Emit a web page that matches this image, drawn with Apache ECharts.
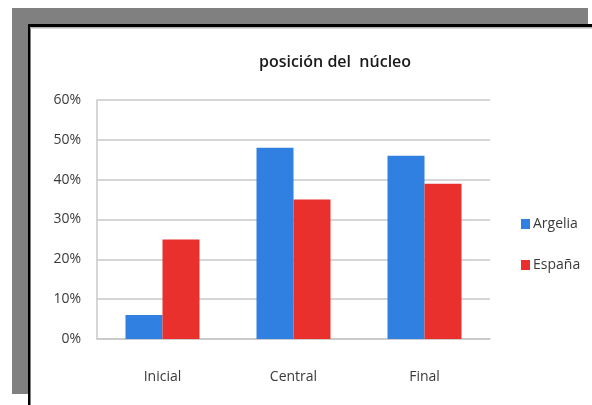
<!DOCTYPE html>
<html>
<head>
<meta charset="utf-8">
<script src="https://cdn.jsdelivr.net/npm/echarts@6/dist/echarts.min.js"></script>
<style>
html,body{margin:0;padding:0;background:#fff;}
#chart{width:592px;height:405px;}
</style>
</head>
<body>
<div id="chart"></div>
<script>
// Position categories and percentage shares per country
const categories = ['Inicial', 'Central', 'Final'];
const argelia = [0.06, 0.48, 0.46];
const espana = [0.25, 0.35, 0.39];
const seriesNames = ['Argelia', 'España'];
const titleText = 'posición del  núcleo';

const chart = echarts.init(document.getElementById('chart'), null, {renderer: 'canvas'});
const labelFont = 'Open Sans';

chart.setOption({
  backgroundColor: '#ffffff',
  animation: false,
  graphic: [
    // grey shadow frame behind the panel
    {type: 'rect', shape: {x: 12, y: 8, width: 576, height: 18}, style: {fill: '#808080'}, z: 0},
    {type: 'rect', shape: {x: 12, y: 8, width: 17, height: 386}, style: {fill: '#808080'}, z: 0},
    // black panel edges
    {type: 'rect', shape: {x: 28, y: 24, width: 564, height: 3}, style: {fill: '#000000'}, z: 1},
    {type: 'rect', shape: {x: 28, y: 24, width: 2.5, height: 381}, style: {fill: '#000000'}, z: 1},
    {type: 'rect', shape: {x: 30, y: 27, width: 562, height: 1.5}, style: {fill: '#b0b0b0'}, z: 1}
  ],
  title: {
    text: titleText,
    left: 330,
    textAlign: 'center',
    top: 49,
    textStyle: {fontFamily: labelFont, fontSize: 16, fontWeight: 600, color: '#1a1a1a'}
  },
  legend: {
    data: seriesNames,
    orient: 'vertical',
    left: 516,
    top: 212,
    itemWidth: 9,
    itemHeight: 10,
    itemGap: 27,
    icon: 'rect',
    textStyle: {fontFamily: labelFont, fontSize: 14, color: '#3a3a3a', padding: [0, 0, 0, -2]}
  },
  grid: {left: 97, right: 102, top: 100, bottom: 66, containLabel: false},
  xAxis: {
    type: 'category',
    data: categories,
    axisLine: {lineStyle: {color: '#c8c8c8', width: 1.5}},
    axisTick: {show: false},
    axisLabel: {fontFamily: labelFont, fontSize: 14, color: '#3a3a3a', margin: 31}
  },
  yAxis: {
    type: 'value',
    min: 0,
    max: 0.6,
    interval: 0.1,
    axisLine: {show: true, lineStyle: {color: '#c8c8c8', width: 1.5}},
    axisTick: {show: false},
    splitLine: {lineStyle: {color: '#c8c8c8', width: 1.5}},
    axisLabel: {
      fontFamily: labelFont, fontSize: 14, color: '#3a3a3a', margin: 16,
      formatter: v => Math.round(v * 100) + '%'
    }
  },
  series: [
    {name: seriesNames[0], type: 'bar', data: argelia, barWidth: 37, barGap: '0%', itemStyle: {color: '#2f80e1'}},
    {name: seriesNames[1], type: 'bar', data: espana, barWidth: 37, itemStyle: {color: '#ea302d'}}
  ]
});
</script>
</body>
</html>
